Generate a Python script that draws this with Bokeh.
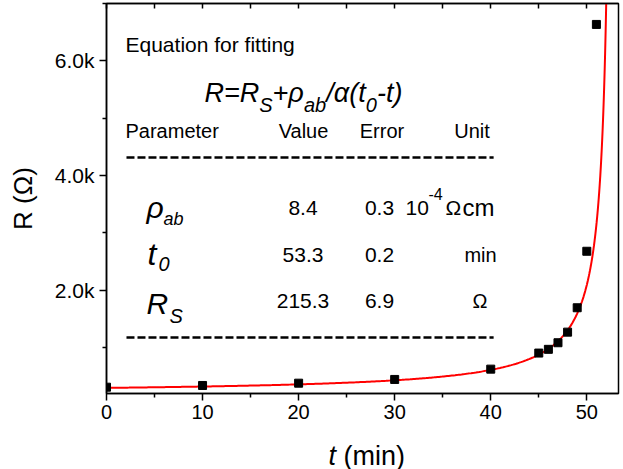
import numpy as np
from bokeh.plotting import figure
from bokeh.layouts import column
from bokeh.models import Label, LinearAxis, Range1d, FixedTicker
from bokeh.embed import file_html
from bokeh.resources import INLINE

# ---- data ----
t_min = [0, 10, 20, 30, 40, 45, 46, 47, 48, 49, 50, 51]
r_ohm = [310, 340, 380, 445, 625, 905, 970, 1085, 1270, 1695, 2680, 6635]

x_major = [0, 10, 20, 30, 40, 50]
x_minor = [5, 15, 25, 35, 45]
y_major = [2000, 4000, 6000]
y_minor = [1000, 3000, 5000, 7000]
y_tick_labels = ["2.0k", "4.0k", "6.0k"]

# fit table (as printed)
param_values = ["8.4", "53.3", "215.3"]
param_errors = ["0.3", "0.2", "6.9"]

# fitted curve as drawn: R = Rs + K/(t0 - t)
curve_rs = 197.5
curve_t0 = 52.8
curve_k = 5305.0

FONT = "Liberation Sans"
MAIN_H = 428
H2 = 469 - MAIN_H

p = figure(width=623, height=MAIN_H,
           x_range=Range1d(0, 53.3), y_range=Range1d(200, 7000),
           output_backend="svg", toolbar_location=None,
           min_border_left=106, min_border_right=5, min_border_top=3,
           min_border_bottom=35)
p.grid.visible = False
p.outline_line_color = "black"
p.outline_line_width = 1.5
p.background_fill_color = "white"
p.border_fill_color = "white"

xt = FixedTicker(ticks=x_major, minor_ticks=x_minor)
yt = FixedTicker(ticks=y_major, minor_ticks=y_minor)

xa = p.xaxis[0]
xa.ticker = xt
ya = p.yaxis[0]
ya.ticker = yt
ya.major_label_overrides = {v: s for v, s in zip(y_major, y_tick_labels)}

for ax in (xa, ya):
    ax.axis_line_width = 1.5
    ax.major_tick_line_width = 1.5
    ax.minor_tick_line_width = 1.5
    ax.major_tick_in = 0
    ax.major_tick_out = 7
    ax.minor_tick_in = 0
    ax.minor_tick_out = 4
    ax.major_label_text_font = FONT
    ax.major_label_text_font_size = "20px"
    ax.major_label_text_color = "black"
    ax.major_label_standoff = 5

xa.major_label_standoff = 4
ya.major_label_text_font_size = "21px"
ya.axis_label = "R (Ω)"
ya.axis_label_text_font = FONT
ya.axis_label_text_font_size = "26px"
ya.axis_label_text_font_style = "normal"
ya.axis_label_text_color = "black"
ya.axis_label_standoff = 14

# top frame edge: inward ticks only, no labels
top_ticker = FixedTicker(ticks=[], minor_ticks=x_major + x_minor)
top = LinearAxis(ticker=top_ticker, major_label_standoff=0,
                 major_tick_in=0, major_tick_out=0, minor_tick_in=5, minor_tick_out=0,
                 axis_line_width=1.5, minor_tick_line_width=1.5)
p.add_layout(top, "above")

# fitted curve
tc = np.concatenate([np.linspace(0, 50, 300), np.linspace(50, 52.3, 300)])
rc = curve_rs + curve_k / (curve_t0 - tc)
p.line(tc, rc, line_color="#ff0000", line_width=2)

# data points
p.scatter(t_min, r_ohm, marker="square", size=8, fill_color="black", line_color="black")

# dashed separators (decoration)
p.segment(x0=[2.08, 2.08], y0=[4315, 1176], x1=[40.3, 40.3], y1=[4315, 1176],
          line_color="black", line_width=2.5, line_dash="8 3")

FL, FT = 106, 3  # frame left / top in canvas px


def lab(fig, x, y, text, size, italic=False, align="left", fl=FL, ft=FT, fh=390):
    # positions given in canvas px from top-left; converted to frame-relative screen units
    fig.add_layout(Label(x=x - fl, y=(ft + fh) - y, x_units="screen", y_units="screen",
                         text=text, text_font=FONT, text_font_size=f"{size}px",
                         text_font_style="italic" if italic else "normal",
                         text_align=align, text_baseline="alphabetic", text_color="black"))


W = {'R': .722, '=': .584, 'S': .667, '+': .584, 'ρ': .577, 'a': .556, 'b': .556, '/': .278,
     'α': .578, '(': .333, ')': .333, 't': .278, '0': .556, '-': .333}


def run(x, base, pieces):
    for txt, size, dy in pieces:
        lab(p, x, base + dy, txt, size, italic=True)
        x += sum(W[c] for c in txt) * size


lab(p, 125, 44, "Equation for fitting", 21)
M, S = 27, 20
run(204, 92, [("R=R", M, 0), ("S", S, 12), ("+", M, 0), ("ρ", M, 0), ("ab", S, 12),
              ("/", M, 0), ("α", M, 0), ("(t", M, 0), ("0", S, 12), ("-t)", M, 0)])

lab(p, 125, 130, "Parameter", 20)
lab(p, 303, 130, "Value", 20, align="center")
lab(p, 381.5, 130, "Error", 20, align="center")
lab(p, 471.5, 130, "Unit", 20, align="center")

# parameter symbols
lab(p, 146, 207, "ρ", 30, italic=True)
lab(p, 163, 218, "ab", 18, italic=True)
lab(p, 147, 253, "t", 32, italic=True)
lab(p, 158, 263, "0", 20, italic=True)
lab(p, 146, 303, "R", 30, italic=True)
lab(p, 169, 315, "S", 20, italic=True)

for base, v, e in zip([207, 254, 300], param_values, param_errors):
    lab(p, 302.5, base, v, 21, align="center")
    lab(p, 379, base, e, 21, align="center")

lab(p, 405, 207, "10", 21)
lab(p, 428, 193, "-4", 16)
lab(p, 445, 207, "Ω", 21)
lab(p, 462, 207, "cm", 24)
lab(p, 480, 254, "min", 20, align="center")
lab(p, 479.5, 300, "Ω", 20, align="center")

# x-axis title strip (italic t + upright "(min)"), fixed size, frame aligned with the main plot
p2 = figure(width=623, height=H2, x_range=Range1d(0, 512), y_range=Range1d(0, H2),
            output_backend="svg", toolbar_location=None,
            x_axis_location=None, y_axis_location=None,
            min_border_left=106, min_border_right=5, min_border_top=0, min_border_bottom=0,
            outline_line_color=None)
p2.grid.visible = False
lab(p2, 328, 455, "t", 27, italic=True, ft=MAIN_H, fh=H2)
lab(p2, 343, 455, "(min)", 27, ft=MAIN_H, fh=H2)

layout = column(p, p2, spacing=0)
open("out.html", "w").write(file_html(layout, INLINE))
